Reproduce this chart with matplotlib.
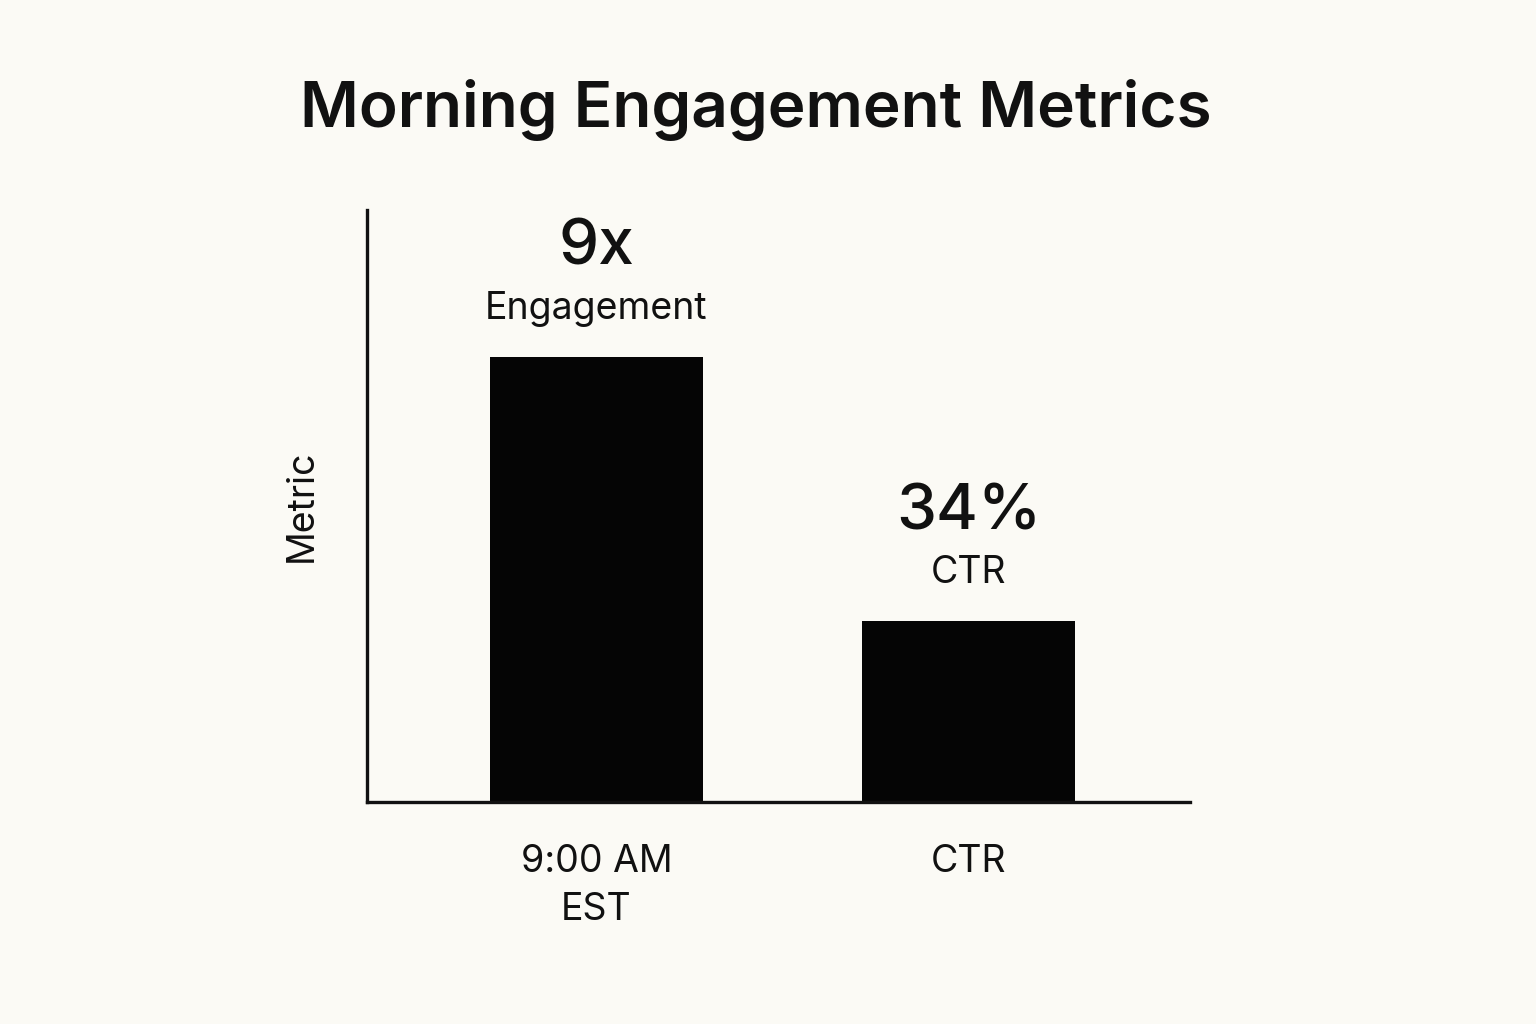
import matplotlib
matplotlib.use("Agg")
import matplotlib.pyplot as plt

categories = ["9:00 AM\nEST", "CTR"]
heights = [75.2, 30.6]
value_labels = ["9x", "34%"]
sub_labels = ["Engagement", "CTR"]

bg = "#FBFAF5"
plt.rcParams["font.family"] = "Inter"
fig = plt.figure(figsize=(15.36, 10.24), dpi=100, facecolor=bg)
ax = fig.add_axes([367/1536, 1-802/1024, 823/1536, 592/1024], facecolor=bg)
x = list(range(len(categories)))
ax.bar(x, heights, width=0.573, color="#050505")
ax.set_xlim(-0.617, 1.595)
ax.set_ylim(0, 100)
for xi, h, v, s in zip(x, heights, value_labels, sub_labels):
    ax.text(xi, h + 18.3, v, ha="center", va="center", fontsize=46, fontweight="medium", color="#111")
    ax.text(xi, h + 8.0, s, ha="center", va="center", fontsize=27, color="#111")
for s in ["top", "right"]:
    ax.spines[s].set_visible(False)
for s in ["left", "bottom"]:
    ax.spines[s].set_linewidth(2.4)
    ax.spines[s].set_color("#111")
ax.set_yticks([])
ax.set_xticks(x)
ax.set_xticklabels(categories, fontsize=27, color="#111", linespacing=1.45)
ax.tick_params(axis="x", length=0, pad=30)
ax.set_ylabel("Metric", fontsize=27, color="#111", labelpad=34)
fig.text(0.492, 0.893, "Morning Engagement Metrics", ha="center", va="center",
         fontsize=46, fontweight="semibold", color="#111")
fig.savefig("out.png", dpi=100, facecolor=bg)
